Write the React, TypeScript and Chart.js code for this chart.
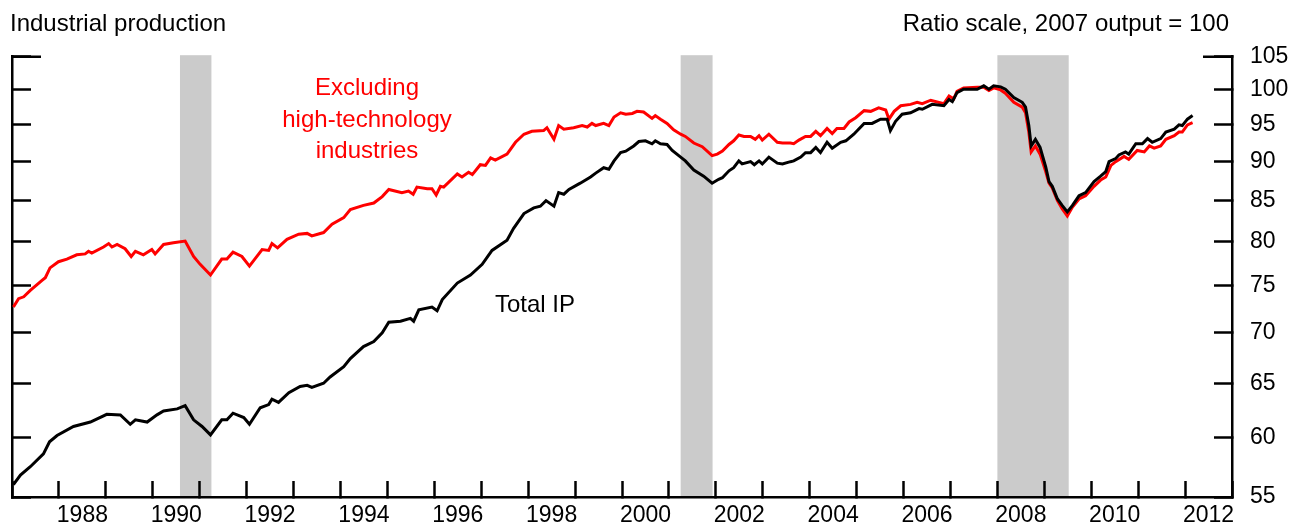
import React, { useEffect, useRef } from 'react';
import { Chart, registerables } from 'chart.js';

Chart.register(...registerables);

// ---- Data (index, 2007 output = 100) ----
const totalDates = [
  1987.03, 1987.18, 1987.39, 1987.67, 1987.80, 1987.96, 1988.31, 1988.67, 1989.02, 1989.31,
  1989.52, 1989.63, 1989.88, 1990.09, 1990.23, 1990.52, 1990.69, 1990.87, 1991.05, 1991.23,
  1991.47, 1991.58, 1991.71, 1991.94, 1992.06, 1992.29, 1992.47, 1992.54, 1992.68, 1992.90,
  1993.14, 1993.29, 1993.39, 1993.64, 1993.78, 1994.07, 1994.21, 1994.49, 1994.71, 1994.89,
  1995.03, 1995.28, 1995.49, 1995.56, 1995.67, 1995.95, 1996.06, 1996.17, 1996.49, 1996.77,
  1997.02, 1997.23, 1997.55, 1997.69, 1997.91, 1998.12, 1998.26, 1998.38, 1998.55, 1998.65,
  1998.76, 1998.87, 1999.11, 1999.33, 1999.44, 1999.61, 1999.72, 1999.83, 1999.97, 2000.08,
  2000.25, 2000.36, 2000.50, 2000.64, 2000.71, 2000.82, 2000.96, 2001.07, 2001.25, 2001.35,
  2001.53, 2001.74, 2001.92, 2002.06, 2002.14, 2002.28, 2002.38, 2002.49, 2002.56, 2002.74,
  2002.82, 2002.92, 2002.99, 2003.13, 2003.31, 2003.42, 2003.59, 2003.66, 2003.81, 2003.91,
  2004.02, 2004.13, 2004.23, 2004.37, 2004.48, 2004.66, 2004.77, 2004.94, 2005.16, 2005.33,
  2005.51, 2005.65, 2005.72, 2005.83, 2005.97, 2006.15, 2006.33, 2006.40, 2006.61, 2006.86,
  2006.97, 2007.04, 2007.14, 2007.28, 2007.57, 2007.71, 2007.82, 2007.92, 2008.07, 2008.17,
  2008.35, 2008.53, 2008.60, 2008.67, 2008.72, 2008.81, 2008.91, 2009.03, 2009.10, 2009.17,
  2009.28, 2009.38, 2009.49, 2009.60, 2009.74, 2009.88, 2010.06, 2010.20, 2010.31, 2010.38,
  2010.52, 2010.59, 2010.73, 2010.80, 2010.95, 2011.09, 2011.20, 2011.30, 2011.48, 2011.59,
  2011.77, 2011.87, 2011.94, 2012.05, 2012.16,
];
const totalValues = [
  56.0, 56.8, 57.5, 58.6, 59.65, 60.2, 61.0, 61.4, 62.1, 62.05,
  61.2, 61.6, 61.4, 62.05, 62.4, 62.6, 62.9, 61.6, 61.0, 60.25,
  61.6, 61.6, 62.2, 61.8, 61.2, 62.7, 63.0, 63.5, 63.2, 64.1,
  64.7, 64.8, 64.6, 65.0, 65.6, 66.6, 67.4, 68.6, 69.1, 70.0,
  71.1, 71.2, 71.5, 71.2, 72.4, 72.7, 72.3, 73.5, 75.3, 76.2,
  77.4, 79.0, 80.2, 81.6, 83.4, 84.1, 84.3, 85.0, 84.3, 86.0,
  85.8, 86.4, 87.2, 88.0, 88.5, 89.2, 89.0, 90.1, 91.2, 91.4,
  92.1, 92.7, 92.8, 92.4, 92.8, 92.4, 92.3, 91.5, 90.6, 90.1,
  88.9, 88.1, 87.2, 87.7, 87.9, 88.8, 89.2, 90.1, 89.7, 90.0,
  89.6, 90.1, 89.7, 90.6, 89.8, 89.7, 90.0, 90.1, 90.6, 91.2,
  91.2, 91.9, 91.2, 92.6, 91.8, 92.6, 92.8, 93.7, 95.2, 95.2,
  95.8, 95.8, 94.2, 95.5, 96.5, 96.7, 97.3, 97.2, 97.9, 97.7,
  98.6, 98.3, 99.6, 100.1, 100.1, 100.6, 100.1, 100.6, 100.45, 100.1,
  98.9, 98.2, 97.5, 94.9, 92.1, 93.0, 91.9, 89.3, 87.4, 86.8,
  85.2, 84.4, 83.6, 84.4, 85.6, 86.0, 87.4, 88.1, 88.7, 90.0,
  90.4, 90.9, 91.3, 91.0, 92.4, 92.4, 93.1, 92.6, 93.1, 94.0,
  94.4, 95.0, 94.9, 95.8, 96.3,
];

const exclDates = [
  1987.03, 1987.14, 1987.25, 1987.39, 1987.64, 1987.71, 1987.81, 1987.99, 1988.17, 1988.38,
  1988.56, 1988.63, 1988.70, 1988.95, 1989.06, 1989.13, 1989.24, 1989.41, 1989.54, 1989.63,
  1989.80, 1989.98, 1990.05, 1990.23, 1990.44, 1990.69, 1990.87, 1991.01, 1991.23, 1991.47,
  1991.58, 1991.71, 1991.90, 1992.06, 1992.33, 1992.47, 1992.54, 1992.66, 1992.86, 1993.11,
  1993.29, 1993.39, 1993.64, 1993.82, 1994.07, 1994.21, 1994.49, 1994.71, 1994.89, 1995.03,
  1995.31, 1995.45, 1995.55, 1995.63, 1995.85, 1995.95, 1996.04, 1996.13, 1996.20, 1996.49,
  1996.59, 1996.73, 1996.81, 1996.98, 1997.09, 1997.20, 1997.30, 1997.55, 1997.73, 1997.91,
  1998.08, 1998.33, 1998.40, 1998.55, 1998.65, 1998.76, 1998.97, 1999.15, 1999.26, 1999.36,
  1999.44, 1999.61, 1999.72, 1999.83, 1999.97, 2000.08, 2000.22, 2000.32, 2000.46, 2000.64,
  2000.71, 2000.82, 2000.96, 2001.10, 2001.25, 2001.35, 2001.53, 2001.71, 2001.92, 2002.03,
  2002.14, 2002.28, 2002.38, 2002.49, 2002.60, 2002.74, 2002.84, 2002.92, 2002.99, 2003.13,
  2003.31, 2003.42, 2003.59, 2003.66, 2003.77, 2003.91, 2004.02, 2004.13, 2004.23, 2004.37,
  2004.48, 2004.58, 2004.73, 2004.84, 2004.98, 2005.16, 2005.30, 2005.47, 2005.62, 2005.69,
  2005.80, 2005.94, 2006.15, 2006.29, 2006.40, 2006.58, 2006.86, 2006.97, 2007.07, 2007.14,
  2007.28, 2007.57, 2007.71, 2007.82, 2007.92, 2008.07, 2008.17, 2008.35, 2008.53, 2008.60,
  2008.67, 2008.72, 2008.81, 2008.91, 2009.03, 2009.10, 2009.17, 2009.28, 2009.38, 2009.49,
  2009.60, 2009.74, 2009.88, 2010.06, 2010.20, 2010.31, 2010.42, 2010.52, 2010.70, 2010.80,
  2010.98, 2011.13, 2011.24, 2011.34, 2011.48, 2011.59, 2011.77, 2011.87, 2011.94, 2012.05,
  2012.16,
];
const exclValues = [
  72.7, 73.6, 73.8, 74.5, 75.6, 75.9, 77.0, 77.7, 78.0, 78.5,
  78.6, 78.9, 78.7, 79.4, 79.8, 79.4, 79.7, 79.2, 78.3, 78.9,
  78.5, 79.1, 78.6, 79.7, 79.9, 80.1, 78.3, 77.4, 76.2, 78.0,
  78.0, 78.8, 78.3, 77.2, 79.1, 79.0, 79.8, 79.3, 80.3, 80.9,
  81.0, 80.7, 81.1, 82.1, 82.9, 83.9, 84.4, 84.7, 85.5, 86.4,
  86.0, 86.2, 85.8, 86.7, 86.5, 86.5, 85.7, 86.8, 86.7, 88.4,
  88.0, 88.6, 88.3, 89.6, 89.5, 90.5, 90.2, 91.0, 92.6, 93.7,
  94.1, 94.2, 94.6, 93.0, 94.9, 94.4, 94.6, 94.9, 94.7, 95.2,
  94.9, 95.2, 94.9, 96.1, 96.7, 96.5, 96.6, 96.9, 96.8, 95.9,
  96.3, 95.8, 95.2, 94.3, 93.7, 93.4, 92.5, 92.0, 90.8, 91.0,
  91.4, 92.3, 92.8, 93.6, 93.4, 93.4, 93.0, 93.5, 92.9, 93.7,
  92.6, 92.5, 92.5, 92.4, 92.9, 93.4, 93.4, 94.1, 93.5, 94.5,
  93.8, 94.5, 94.5, 95.4, 96.0, 97.0, 96.9, 97.4, 97.1, 95.8,
  96.9, 97.7, 97.9, 98.2, 98.0, 98.5, 98.0, 99.1, 98.7, 99.8,
  100.3, 100.4, 100.4, 99.9, 100.3, 100.0, 99.5, 98.2, 97.5, 96.7,
  94.0, 91.3, 92.1, 91.0, 88.7, 87.2, 86.6, 85.0, 84.0, 83.1,
  84.2, 85.2, 85.6, 86.8, 87.6, 88.0, 89.5, 90.0, 90.7, 90.3,
  91.5, 91.3, 92.1, 91.8, 92.1, 93.0, 93.5, 94.0, 94.0, 95.0,
  95.3,
];

// Recessions (decimal years)
const recessionStarts = [1990.58, 2001.25, 2008.0];
const recessionEnds = [1991.25, 2001.93, 2009.52];

// Axis ticks
const yTickValues = [55, 60, 65, 70, 75, 80, 85, 90, 95, 100, 105];
const xTickLabels = ['1988', '1990', '1992', '1994', '1996', '1998', '2000', '2002', '2004', '2006', '2008', '2010', '2012'];
const xMin = 1987;
const xMax = 2013;

const FONT = '"Liberation Sans", Arial, Helvetica, sans-serif';

function zeroPadding(s: any) {
  s.paddingTop = 0;
  s.paddingBottom = 0;
  s.paddingLeft = 0;
  s.paddingRight = 0;
}

export default function App() {
  const ref = useRef<HTMLCanvasElement | null>(null);

  useEffect(() => {
    const canvas = ref.current;
    if (!canvas) return;

    const shadingPlugin = {
      id: 'recessionShading',
      beforeDraw(chart: any) {
        const { ctx, chartArea, scales } = chart;
        const xs = scales.x;
        ctx.save();
        ctx.fillStyle = '#cbcbcb';
        for (let i = 0; i < recessionStarts.length; i++) {
          const x0 = xs.getPixelForValue(recessionStarts[i]);
          const x1 = xs.getPixelForValue(recessionEnds[i]);
          ctx.fillRect(x0, chartArea.top - 1.5, x1 - x0, chartArea.bottom - chartArea.top + 1.5);
        }
        ctx.restore();
      },
    };

    const textPlugin = {
      id: 'annotations',
      afterDraw(chart: any) {
        const { ctx, chartArea, scales } = chart;
        const ys = scales.y;
        ctx.save();
        // longer top ticks on both vertical axes
        const yTop = ys.getPixelForValue(105);
        ctx.strokeStyle = '#000';
        ctx.lineWidth = 2.5;
        ctx.beginPath();
        ctx.moveTo(chartArea.left, yTop);
        ctx.lineTo(chartArea.left + 29, yTop);
        ctx.moveTo(chartArea.right - 29, yTop);
        ctx.lineTo(chartArea.right, yTop);
        ctx.stroke();

        ctx.font = `24px ${FONT}`;
        ctx.textBaseline = 'alphabetic';
        ctx.fillStyle = '#000';
        ctx.textAlign = 'left';
        ctx.fillText('Industrial production', 10, 31);
        ctx.textAlign = 'right';
        ctx.fillText('Ratio scale, 2007 output = 100', 1229, 31);

        ctx.fillStyle = '#ff0000';
        ctx.textAlign = 'center';
        ctx.fillText('Excluding', 367, 95);
        ctx.fillText('high-technology', 367, 126.5);
        ctx.fillText('industries', 367, 158);

        ctx.fillStyle = '#000';
        ctx.textAlign = 'left';
        ctx.fillText('Total IP', 495, 312);
        ctx.restore();
      },
    };

    const pxPerYear = (1232 - 12) / (xMax - xMin);

    const chart = new Chart(canvas, {
      type: 'line',
      data: {
        datasets: [
          {
            label: 'Total IP',
            data: totalDates.map((d, i) => ({ x: d, y: totalValues[i] })),
            borderColor: '#000000',
            borderWidth: 3,
            pointRadius: 0,
            tension: 0,
            fill: false,
            xAxisID: 'x',
            yAxisID: 'y',
          },
          {
            label: 'Excluding high-technology industries',
            data: exclDates.map((d, i) => ({ x: d, y: exclValues[i] })),
            borderColor: '#ff0000',
            borderWidth: 3,
            pointRadius: 0,
            tension: 0,
            fill: false,
            xAxisID: 'x',
            yAxisID: 'y',
          },
        ],
      },
      options: {
        responsive: false,
        animation: false,
        events: [],
        layout: { padding: { left: 12, top: 56.7, right: 0, bottom: 0 } },
        plugins: {
          legend: { display: false },
          tooltip: { enabled: false },
          title: { display: false },
        },
        scales: {
          x: {
            type: 'linear',
            position: 'bottom',
            min: xMin,
            max: xMax,
            afterBuildTicks: (s: any) => {
              const t = [];
              for (let v = xMin; v <= xMax; v++) t.push({ value: v });
              s.ticks = t;
            },
            ticks: {
              autoSkip: false,
              maxRotation: 0,
              minRotation: 0,
              labelOffset: pxPerYear / 2,
              padding: 21,
              color: '#000',
              font: { family: FONT, size: 23 },
              callback: (v: any) => {
                const s = String(v);
                return xTickLabels.includes(s) ? s : '';
              },
            },
            grid: {
              drawOnChartArea: false,
              drawTicks: true,
              tickLength: -16,
              tickWidth: 2.5,
              tickColor: '#000',
            },
            border: { display: true, color: '#000', width: 2.5 },
            afterFit: (s: any) => {
              s.height = 26;
              zeroPadding(s);
            },
          },
          y: {
            type: 'logarithmic',
            position: 'right',
            min: 55,
            max: 105,
            afterBuildTicks: (s: any) => {
              s.ticks = yTickValues.map((v) => ({ value: v }));
            },
            ticks: {
              autoSkip: false,
              padding: 36,
              color: '#000',
              font: { family: FONT, size: 23 },
              callback: (v: any) => String(v),
            },
            grid: {
              drawOnChartArea: false,
              drawTicks: true,
              tickLength: -18,
              tickWidth: 2.5,
              tickColor: '#000',
            },
            border: { display: true, color: '#000', width: 2.5 },
            afterFit: (s: any) => {
              s.width = 62;
              zeroPadding(s);
            },
          },
          yLeft: {
            type: 'logarithmic',
            position: 'left',
            min: 55,
            max: 105,
            afterBuildTicks: (s: any) => {
              s.ticks = yTickValues.map((v) => ({ value: v }));
            },
            ticks: { display: false },
            grid: {
              drawOnChartArea: false,
              drawTicks: true,
              tickLength: -19,
              tickWidth: 2.5,
              tickColor: '#000',
            },
            border: { display: true, color: '#000', width: 2.5 },
            afterFit: (s: any) => {
              s.width = 0;
              zeroPadding(s);
            },
          },
        },
      },
      plugins: [shadingPlugin, textPlugin],
    } as any);

    return () => {
      chart.destroy();
    };
  }, []);

  return (
    <div style={{ position: 'absolute', left: 0, top: 0, width: 1294, height: 523, background: '#fff' }}>
      <canvas ref={ref} width={1294} height={523} style={{ display: 'block', width: 1294, height: 523 }} />
    </div>
  );
}
